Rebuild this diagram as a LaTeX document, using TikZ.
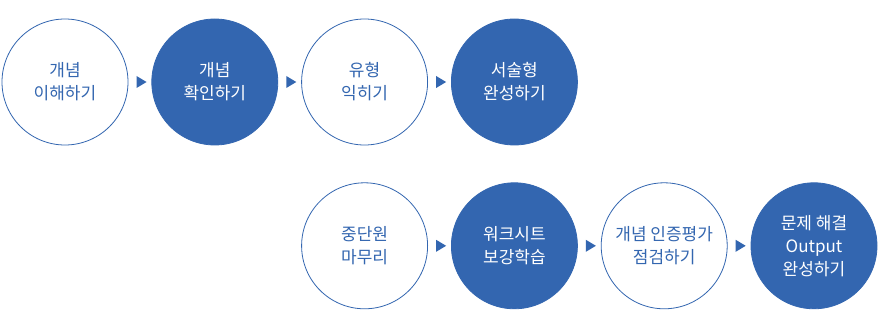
\documentclass[tikz,border=0pt]{standalone}
\usepackage{fontspec}
\newfontfamily\kr{Noto Sans CJK KR}
\usepackage{tikz}
\usetikzlibrary{positioning,shapes.geometric,calc}
\definecolor{stepblue}{RGB}{51,102,176}

\tikzset{
  stepopen/.style={circle, draw=stepblue, line width=0.8pt, fill=white, text=stepblue,
    minimum size=126pt, inner sep=0pt, align=center,
    font=\kr\fontsize{17}{23}\selectfont},
  stepfull/.style={stepopen, fill=stepblue, text=white},
  steptip/.style={isosceles triangle, isosceles triangle stretches, fill=stepblue,
    minimum width=12pt, minimum height=10pt, inner sep=0pt, draw=none}
}

\begin{document}
\begin{tikzpicture}
\useasboundingbox[fill=white] (0,0) rectangle (879pt,-310pt);

% upper row
\node[stepopen] (c1) at (65pt,-82pt) {개념\\이해하기};
\node[stepfull, right=23pt of c1] (c2) {개념\\확인하기};
\node[stepopen, right=23pt of c2] (c3) {유형\\익히기};
\node[stepfull, right=23pt of c3] (c4) {서술형\\완성하기};

% lower row
\node[stepopen, below=37pt of c3] (c5) {중단원\\마무리};
\node[stepfull, right=23pt of c5] (c6) {워크시트\\보강학습};
\node[stepopen, right=23pt of c6] (c7) {개념 인증평가\\점검하기};
\node[stepfull, right=23pt of c7] (c8) {문제 해결\\Output\\완성하기};

% small triangles between the circles
\path (c1) -- node[steptip]{} (c2);
\path (c2) -- node[steptip]{} (c3);
\path (c3) -- node[steptip]{} (c4);
\path (c5) -- node[steptip]{} (c6);
\path (c6) -- node[steptip]{} (c7);
\path (c7) -- node[steptip]{} (c8);
\end{tikzpicture}
\end{document}
